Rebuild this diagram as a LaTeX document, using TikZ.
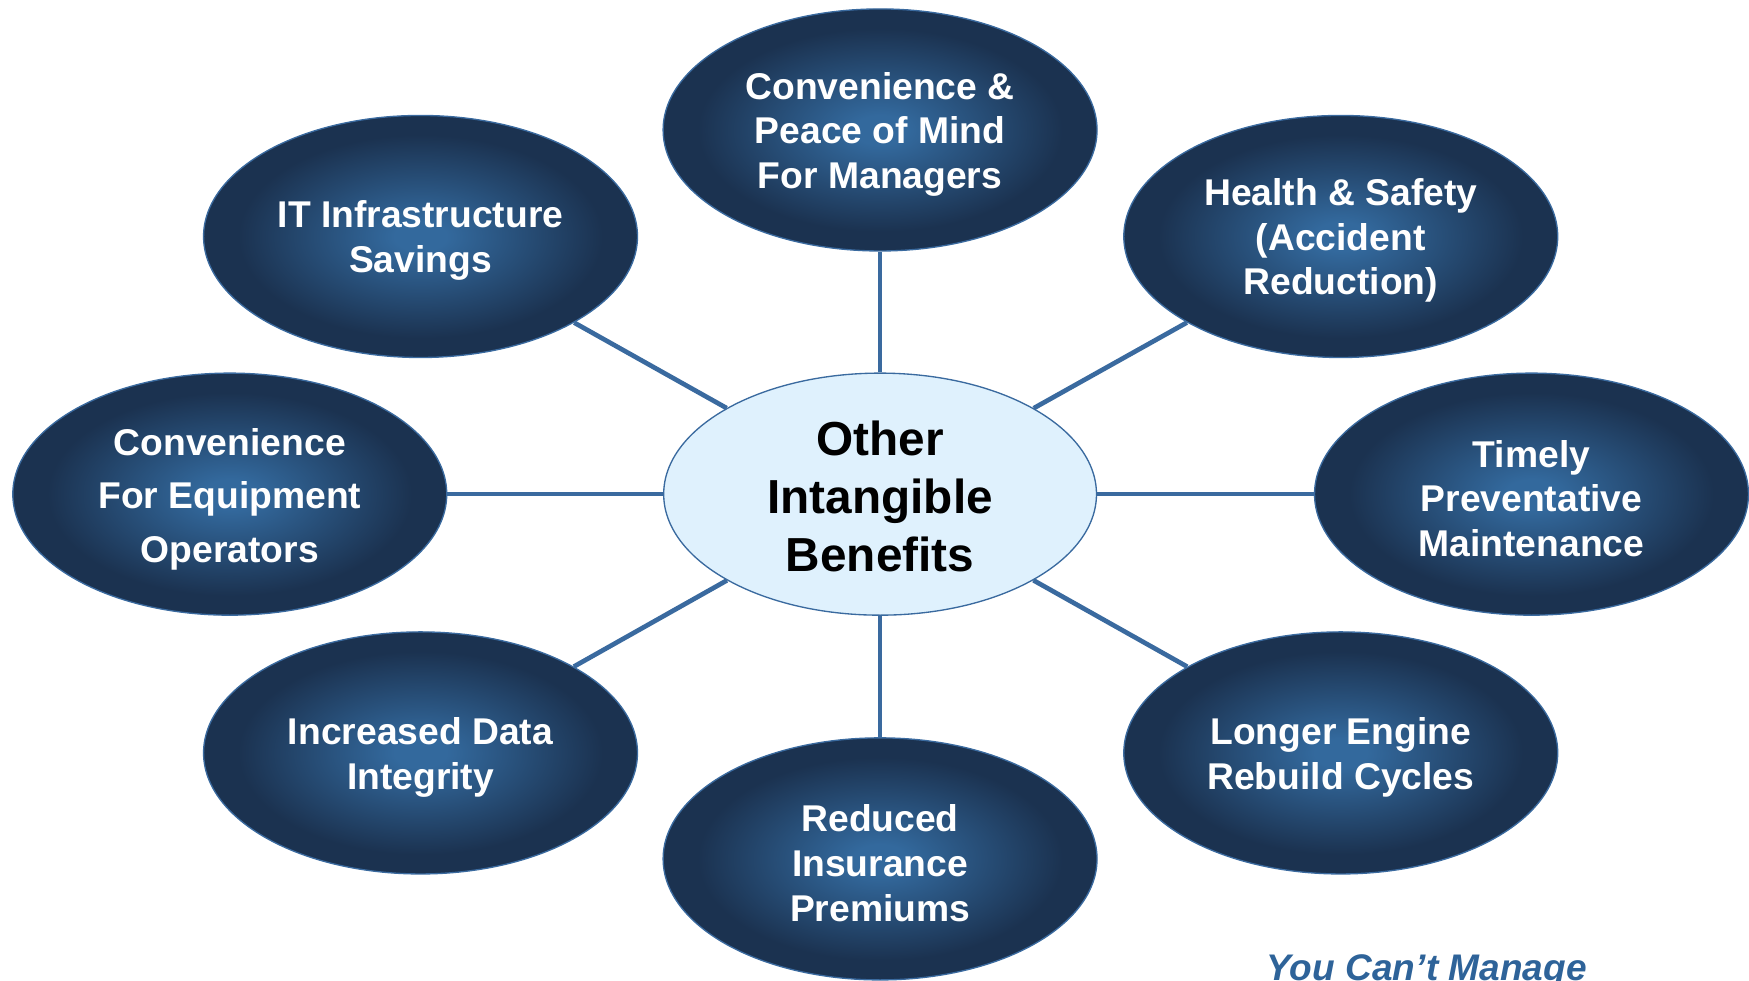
\documentclass[tikz,border=0pt]{standalone}
\usepackage{fontspec}
\setmainfont{Liberation Sans}
\usetikzlibrary{shapes.geometric}
\definecolor{bubin}{HTML}{33699D}
\definecolor{bubout}{HTML}{1B3250}
\definecolor{edgecol}{HTML}{3A6A9F}
\definecolor{hubfill}{HTML}{DFF1FD}
\definecolor{notecol}{HTML}{2E6399}
\pgfdeclareradialshading{bubshade}{\pgfpoint{0bp}{0bp}}{color(0bp)=(bubin); color(3bp)=(bubin); color(21bp)=(bubout); color(25bp)=(bubout); color(50bp)=(bubout)}
\begin{document}
\begin{tikzpicture}[x=0.5pt,y=-0.5pt,
  bubble/.style={ellipse, minimum width=194.5pt, minimum height=108.5pt, inner sep=0pt,
    draw=edgecol, line width=0.6pt, shade, shading=bubshade},
  bubtext/.style={text=white, font=\bfseries\fontsize{16.7}{20}\selectfont, align=center, yshift=-1.9pt},
  widetext/.style={text=white, font=\bfseries\fontsize{16.7}{24}\selectfont, align=center, yshift=-2.2pt},
  hub/.style={ellipse, minimum width=194pt, minimum height=108.5pt, inner sep=0pt,
    draw=edgecol, line width=0.6pt, fill=hubfill},
  hubtext/.style={text=black, font=\bfseries\fontsize{21.4}{26}\selectfont, align=center, yshift=-1pt},
  link/.style={draw=edgecol, line width=2.1pt},
  note/.style={text=notecol, font=\bfseries\itshape\fontsize{16.6}{19}\selectfont, inner sep=0pt}]
\useasboundingbox (0,0) rectangle (1568,878.6);
\node[hub, label={[hubtext]center:{Other\\Intangible\\Benefits}}] (c) at (789,443) {};
\node[bubble, label={[bubtext]center:{Convenience \&\\Peace of Mind\\For Managers}}] (top) at (789,116.5) {};
\node[bubble, label={[bubtext]center:{IT Infrastructure\\Savings}}] (it) at (377,212) {};
\node[bubble, label={[bubtext]center:{Health \& Safety\\(Accident\\Reduction)}}] (hs) at (1202,212) {};
\node[bubble, label={[widetext]center:{Convenience\\For Equipment\\Operators}}] (ce) at (206,443) {};
\node[bubble, label={[bubtext]center:{Timely\\Preventative\\Maintenance}}] (ti) at (1373,443) {};
\node[bubble, label={[bubtext]center:{Increased Data\\Integrity}}] (id) at (377,675) {};
\node[bubble, label={[bubtext]center:{Reduced\\Insurance\\Premiums}}] (ri) at (789,770) {};
\node[bubble, label={[bubtext]center:{Longer Engine\\Rebuild Cycles}}] (le) at (1202,675) {};
\foreach \n in {top,it,hs,ce,ti,id,ri,le} \draw[link] (c) -- (\n);
\node[note, anchor=base west] (motto) at (1135,879) {You Can’t Manage};
\end{tikzpicture}
\end{document}
